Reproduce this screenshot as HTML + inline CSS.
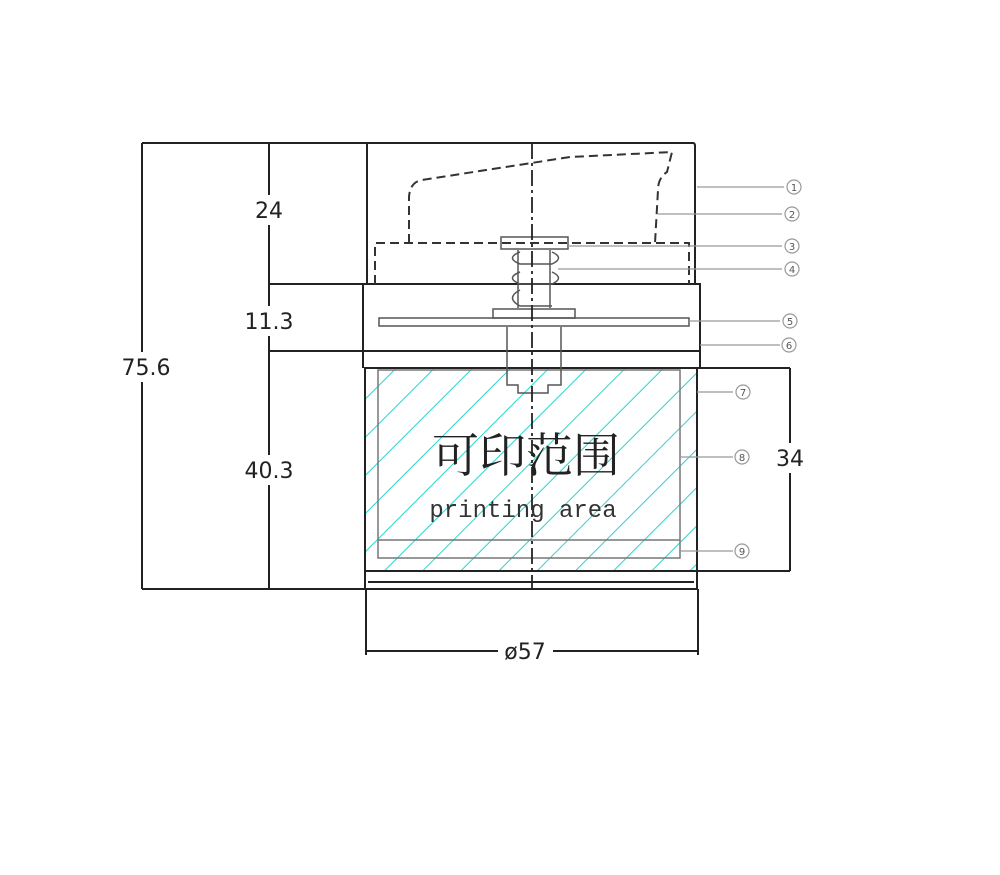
<!DOCTYPE html>
<html><head><meta charset="utf-8"><style>html,body{margin:0;padding:0;background:#fff;width:1000px;height:875px;overflow:hidden}</style></head>
<body>
<svg width="1000" height="875" xmlns="http://www.w3.org/2000/svg" font-family="'DejaVu Sans','Liberation Sans',sans-serif">
<defs>
<pattern id="h" patternUnits="userSpaceOnUse" width="27" height="27" patternTransform="rotate(45)">
<line x1="0" y1="0" x2="0" y2="27" stroke="#2ad4cf" stroke-width="2"/>
</pattern>
</defs>
<rect x="366" y="368" width="331" height="203" fill="url(#h)"/>
<g fill="none" stroke="#222" stroke-width="2">
<line x1="142" y1="143" x2="142" y2="589"/>
<line x1="269" y1="143" x2="269" y2="589"/>
<line x1="142" y1="143" x2="367" y2="143"/>
<line x1="269" y1="284" x2="365" y2="284"/>
<line x1="269" y1="351" x2="365" y2="351"/>
<line x1="142" y1="589" x2="366" y2="589"/>
<path d="M367 284 V143 H693 Q695 143 695 146 V284"/>
<rect x="363" y="284" width="337" height="67"/>
<line x1="363" y1="351" x2="363" y2="368"/>
<line x1="700" y1="351" x2="700" y2="368"/>
<rect x="365" y="368" width="332" height="203"/>
<line x1="697" y1="368" x2="790" y2="368"/>
<line x1="697" y1="571" x2="790" y2="571"/>
<line x1="790" y1="368" x2="790" y2="571"/>
<path d="M365 571 V589 H697 V571"/>
<path d="M368 582 H694"/>
<line x1="366" y1="589" x2="366" y2="655"/>
<line x1="698" y1="589" x2="698" y2="655"/>
<line x1="366" y1="651" x2="498" y2="651"/>
<line x1="553" y1="651" x2="698" y2="651"/>
</g>
<g fill="#fff" stroke="none">
<rect x="127" y="352" width="30" height="30"/>
<rect x="254" y="195" width="30" height="30"/>
<rect x="254" y="306" width="30" height="30"/>
<rect x="254" y="455" width="30" height="30"/>
<rect x="775" y="443" width="30" height="30"/>
</g>
<g fill="none" stroke="#777" stroke-width="1.5">
<rect x="378" y="370" width="302" height="188"/>
<line x1="378" y1="540" x2="680" y2="540"/>
</g>
<g fill="none" stroke="#333" stroke-width="2" stroke-dasharray="9,5">
<path d="M375 284 V243 H689 V284"/>
<path d="M409 243 V197 Q410 182 422 180 L570 157 L672 152 L667 172 Q658 178 658 190 L655 243"/>
</g>
<g fill="none" stroke="#555" stroke-width="1.5">
<rect x="501" y="237" width="67" height="12"/>
<line x1="518" y1="250" x2="518" y2="308"/>
<line x1="550" y1="250" x2="550" y2="308"/>
<path d="M520 252 Q505 258 520 264 L552 264 Q565 258 552 252"/>
<path d="M520 272 Q505 278 520 284 L552 284 Q565 278 552 272"/>
<path d="M520 290 Q505 298 520 306 L552 306"/>
<rect x="493" y="309" width="82" height="9"/>
<rect x="379" y="318" width="310" height="8"/>
<path d="M507 327 V385 H518 V393 H548 V385 H561 V327"/>
</g>
<line x1="532" y1="143" x2="532" y2="589" stroke="#222" stroke-width="1.8" stroke-dasharray="16,4,3,4"/>
<g stroke="#999" stroke-width="1.2" fill="none">
<line x1="697" y1="187" x2="784" y2="187"/>
<line x1="658" y1="214" x2="782" y2="214"/>
<line x1="568" y1="246" x2="782" y2="246"/>
<line x1="558" y1="269" x2="782" y2="269"/>
<line x1="689" y1="321" x2="780" y2="321"/>
<line x1="700" y1="345" x2="780" y2="345"/>
<line x1="697" y1="392" x2="733" y2="392"/>
<line x1="680" y1="457" x2="733" y2="457"/>
<line x1="680" y1="551" x2="733" y2="551"/>
<circle cx="794" cy="187" r="7"/>
<circle cx="792" cy="214" r="7"/>
<circle cx="792" cy="246" r="7"/>
<circle cx="792" cy="269" r="7"/>
<circle cx="790" cy="321" r="7"/>
<circle cx="789" cy="345" r="7"/>
<circle cx="743" cy="392" r="7"/>
<circle cx="742" cy="457" r="7"/>
<circle cx="742" cy="551" r="7"/>
</g>
<g font-size="10" fill="#555" text-anchor="middle">
<text x="794" y="191">1</text><text x="792" y="218">2</text><text x="792" y="250">3</text>
<text x="792" y="273">4</text><text x="790" y="325">5</text><text x="789" y="349">6</text>
<text x="743" y="396">7</text><text x="742" y="461">8</text><text x="742" y="555">9</text>
</g>
<g font-size="22" fill="#222" text-anchor="middle">
<text x="146" y="375">75.6</text>
<text x="269" y="218">24</text>
<text x="269" y="329">11.3</text>
<text x="269" y="478">40.3</text>
<text x="790" y="466">34</text>
<text x="525" y="659">ø57</text>
</g>
<text x="526" y="472" font-size="47" fill="#222" text-anchor="middle" font-family="'Noto Serif CJK SC','Noto Sans CJK SC',serif">可印范围</text>
<text x="523" y="517" font-size="24" fill="#333" text-anchor="middle" font-family="'Liberation Mono',monospace">printing area</text>
</svg>
</body></html>
